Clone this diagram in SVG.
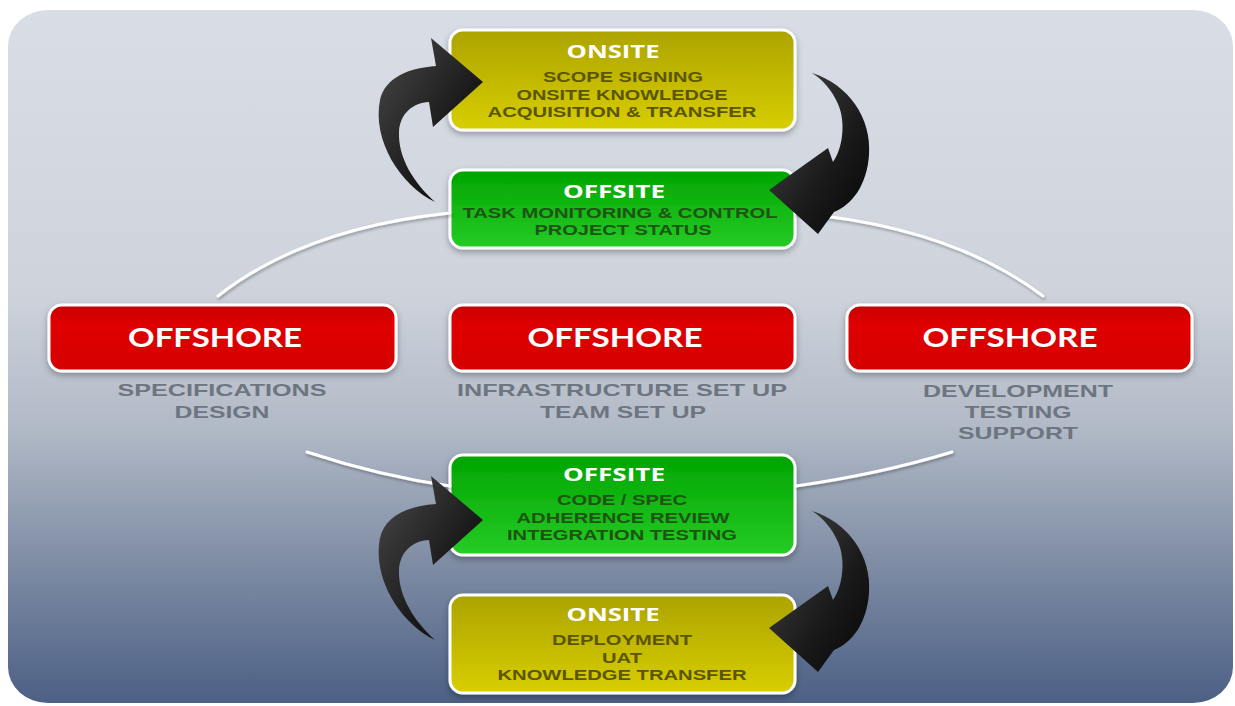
<svg xmlns="http://www.w3.org/2000/svg" width="1235" height="706" viewBox="0 0 1235 706">
<defs>
  <linearGradient id="bg" x1="0" y1="0" x2="0" y2="1">
    <stop offset="0" stop-color="#d9dde5"/>
    <stop offset="0.4" stop-color="#cfd4dc"/>
    <stop offset="0.6" stop-color="#b2bac7"/>
    <stop offset="0.8" stop-color="#7e8ca4"/>
    <stop offset="1" stop-color="#4c6085"/>
  </linearGradient>
  <linearGradient id="gYel" x1="0" y1="0" x2="0" y2="1">
    <stop offset="0" stop-color="#aca300"/>
    <stop offset="1" stop-color="#d8ce00"/>
  </linearGradient>
  <linearGradient id="gGrn" x1="0" y1="0" x2="0" y2="1">
    <stop offset="0" stop-color="#00a400"/>
    <stop offset="1" stop-color="#26cc26"/>
  </linearGradient>
  <linearGradient id="gRed" x1="0" y1="0" x2="0" y2="1">
    <stop offset="0" stop-color="#c80000"/>
    <stop offset="0.3" stop-color="#e00000"/>
    <stop offset="1" stop-color="#d40000"/>
  </linearGradient>
  <linearGradient id="gArr" x1="0" y1="0" x2="1" y2="1">
    <stop offset="0" stop-color="#4a4a4a"/>
    <stop offset="0.6" stop-color="#1a1a1a"/>
    <stop offset="1" stop-color="#050505"/>
  </linearGradient>
  <filter id="sh" x="-10%" y="-20%" width="120%" height="150%">
    <feDropShadow dx="0" dy="3" stdDeviation="3" flood-color="#000" flood-opacity="0.3"/>
  </filter>
  <filter id="ash" x="-20%" y="-20%" width="140%" height="140%">
    <feDropShadow dx="1" dy="2" stdDeviation="1.5" flood-color="#000" flood-opacity="0.3"/>
  </filter>
</defs>
<style>
  .box{stroke:#fff;stroke-width:3;filter:url(#sh)}
  .h{font-family:"Open Sans","Liberation Sans",sans-serif;font-weight:bold;fill:#fff;text-anchor:middle}
  .o{font-family:Lato,"Open Sans","Liberation Sans",sans-serif;font-weight:bold;fill:#fff;text-anchor:middle;font-size:26px}
  .s{font-family:"Liberation Sans",Arial,sans-serif;font-weight:bold;font-size:14px;text-anchor:middle}
  .sy{fill:#5c5500}
  .sg{fill:#1d5412}
  .lab{font-family:"Liberation Sans",Arial,sans-serif;font-weight:bold;font-size:17px;fill:#6d7580;text-anchor:middle}
  .arc{fill:none;stroke:#fff;stroke-width:3;stroke-linecap:round;filter:url(#ash)}
  .arr{fill:url(#gArr)}
</style>

<rect x="8" y="10" width="1225" height="693" rx="40" ry="36" fill="url(#bg)"/>

<g id="onsite-top">
  <rect class="box" x="450" y="30" width="345" height="100" rx="13" fill="url(#gYel)"/>
  <text class="h" x="613" y="58" font-size="17" textLength="93" lengthAdjust="spacingAndGlyphs">ONSITE</text>
  <text class="s sy" x="623" y="82" textLength="160" lengthAdjust="spacingAndGlyphs">SCOPE SIGNING</text>
  <text class="s sy" x="622" y="100" textLength="211" lengthAdjust="spacingAndGlyphs">ONSITE KNOWLEDGE</text>
  <text class="s sy" x="622" y="117" textLength="269" lengthAdjust="spacingAndGlyphs">ACQUISITION &amp; TRANSFER</text>
</g>

<g id="offsite-top">
  <rect class="box" x="450" y="170" width="345" height="78" rx="13" fill="url(#gGrn)"/>
  <text class="h" x="614" y="198" font-size="17" textLength="102" lengthAdjust="spacingAndGlyphs">OFFSITE</text>
  <text class="s sg" x="620" y="218" textLength="315" lengthAdjust="spacingAndGlyphs">TASK MONITORING &amp; CONTROL</text>
  <text class="s sg" x="623" y="235" textLength="177" lengthAdjust="spacingAndGlyphs">PROJECT STATUS</text>
</g>

<g id="offshore-left">
  <rect class="box" x="49" y="305" width="347" height="66" rx="13" fill="url(#gRed)"/>
  <text class="o" x="215" y="347" textLength="174" lengthAdjust="spacingAndGlyphs">OFFSHORE</text>
  <text class="lab" x="222" y="396" textLength="209" lengthAdjust="spacingAndGlyphs">SPECIFICATIONS</text>
  <text class="lab" x="222" y="418" textLength="95" lengthAdjust="spacingAndGlyphs">DESIGN</text>
</g>

<g id="offshore-middle">
  <rect class="box" x="450" y="305" width="345" height="66" rx="13" fill="url(#gRed)"/>
  <text class="o" x="615" y="347" textLength="175" lengthAdjust="spacingAndGlyphs">OFFSHORE</text>
  <text class="lab" x="622" y="396" textLength="330" lengthAdjust="spacingAndGlyphs">INFRASTRUCTURE SET UP</text>
  <text class="lab" x="623" y="418" textLength="166" lengthAdjust="spacingAndGlyphs">TEAM SET UP</text>
</g>

<g id="offshore-right">
  <rect class="box" x="847" y="305" width="345" height="66" rx="13" fill="url(#gRed)"/>
  <text class="o" x="1010" y="347" textLength="175" lengthAdjust="spacingAndGlyphs">OFFSHORE</text>
  <text class="lab" x="1018" y="397" textLength="190" lengthAdjust="spacingAndGlyphs">DEVELOPMENT</text>
  <text class="lab" x="1018" y="418" textLength="107" lengthAdjust="spacingAndGlyphs">TESTING</text>
  <text class="lab" x="1018" y="439" textLength="120" lengthAdjust="spacingAndGlyphs">SUPPORT</text>
</g>

<g id="offsite-bottom">
  <rect class="box" x="450" y="455" width="345" height="100" rx="13" fill="url(#gGrn)"/>
  <text class="h" x="614" y="481" font-size="17" textLength="102" lengthAdjust="spacingAndGlyphs">OFFSITE</text>
  <text class="s sg" x="622" y="505" textLength="130" lengthAdjust="spacingAndGlyphs">CODE / SPEC</text>
  <text class="s sg" x="623" y="523" textLength="213" lengthAdjust="spacingAndGlyphs">ADHERENCE REVIEW</text>
  <text class="s sg" x="622" y="540" textLength="230" lengthAdjust="spacingAndGlyphs">INTEGRATION TESTING</text>
</g>

<g id="onsite-bottom">
  <rect class="box" x="450" y="595" width="345" height="98" rx="13" fill="url(#gYel)"/>
  <text class="h" x="613" y="621" font-size="17" textLength="93" lengthAdjust="spacingAndGlyphs">ONSITE</text>
  <text class="s sy" x="622" y="645" textLength="140" lengthAdjust="spacingAndGlyphs">DEPLOYMENT</text>
  <text class="s sy" x="622" y="663" textLength="40" lengthAdjust="spacingAndGlyphs">UAT</text>
  <text class="s sy" x="622" y="680" textLength="249" lengthAdjust="spacingAndGlyphs">KNOWLEDGE TRANSFER</text>
</g>

<g id="connectors">
  <path class="arc" d="M218,296 Q305,228 450,213"/>
  <path class="arc" d="M795,213 Q950,226 1043,296"/>
  <path class="arc" d="M307,452 Q380,476 450,486"/>
  <path class="arc" d="M796,486 Q880,474 952,452"/>
  <path class="arc" d="M400,338 L440,338"/>
  <path class="arc" d="M805,338 L838,338"/>
  <path class="arr" d="M435,202 C400,185 372,140 380,100 C385,78 408,68 436,66 L431,38 L483,82 L433,127 L429,102 C412,103 400,114 399,132 C398,158 414,183 435,202 Z"/>
  <path class="arr" d="M812,73 C848,84 872,118 869,155 C867,185 852,205 834,212 L818,234 L769,190 L828,148 L833,162 C843,148 846,122 838,104 C832,90 823,80 812,73 Z"/>
  <path class="arr" transform="translate(0,438)" d="M435,202 C400,185 372,140 380,100 C385,78 408,68 436,66 L431,38 L483,82 L433,127 L429,102 C412,103 400,114 399,132 C398,158 414,183 435,202 Z"/>
  <path class="arr" transform="translate(0,438)" d="M812,73 C848,84 872,118 869,155 C867,185 852,205 834,212 L818,234 L769,190 L828,148 L833,162 C843,148 846,122 838,104 C832,90 823,80 812,73 Z"/>
</g>
</svg>
